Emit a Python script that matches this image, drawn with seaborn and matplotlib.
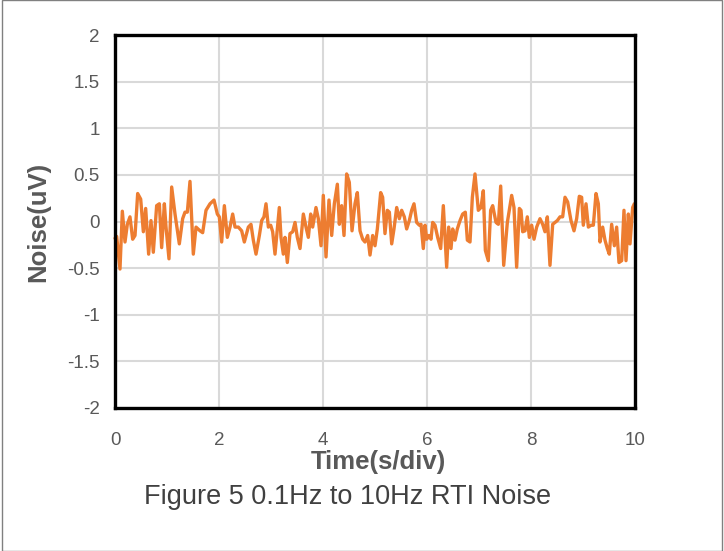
import numpy as np
import pandas as pd
import matplotlib
matplotlib.use("Agg")
import matplotlib.pyplot as plt
import seaborn as sns
from matplotlib.patches import Rectangle

# ---- data ----
time_s = [0.0, 0.032, 0.096, 0.141, 0.192, 0.237, 0.288, 0.340, 0.385, 0.436, 0.494,
          0.545, 0.590, 0.647, 0.692, 0.737, 0.801, 0.853, 0.897, 0.949, 0.981,
          1.038, 1.090, 1.154, 1.237, 1.301, 1.346, 1.391, 1.442, 1.506, 1.558,
          1.635, 1.686, 1.750, 1.827, 1.904, 1.968, 2.006, 2.051, 2.103, 2.160,
          2.212, 2.263, 2.308, 2.372, 2.436, 2.487,
          2.564, 2.615, 2.660, 2.712, 2.776, 2.821, 2.865, 2.904, 2.949, 2.994,
          3.032, 3.077, 3.160, 3.192, 3.237, 3.269, 3.314, 3.365, 3.417, 3.462,
          3.506, 3.558, 3.622, 3.673, 3.718, 3.763, 3.801, 3.865, 3.910, 3.962,
          4.006, 4.058, 4.115, 4.167, 4.218, 4.276, 4.314, 4.359, 4.404, 4.455,
          4.506, 4.558, 4.615, 4.660, 4.712, 4.763, 4.808, 4.859, 4.904,
          4.955, 5.000, 5.045, 5.109, 5.147, 5.192, 5.237, 5.276, 5.321, 5.365,
          5.417, 5.468, 5.513, 5.564, 5.609, 5.660, 5.705, 5.750, 5.801, 5.853,
          5.885, 5.929, 5.962, 5.994, 6.038, 6.077, 6.109, 6.154, 6.205, 6.263,
          6.314, 6.378, 6.417, 6.462, 6.494, 6.538, 6.583, 6.635, 6.686, 6.737,
          6.776, 6.827, 6.872, 6.923, 6.987, 7.038, 7.083, 7.122, 7.179, 7.224,
          7.263, 7.327, 7.372, 7.417, 7.475,
          7.545, 7.628, 7.673, 7.724, 7.776, 7.808, 7.840, 7.885, 7.929, 7.968,
          8.013, 8.058, 8.109, 8.173, 8.224, 8.269, 8.314, 8.365, 8.417, 8.462,
          8.506, 8.558, 8.609, 8.654, 8.705, 8.769, 8.827, 8.878, 8.929, 8.974,
          9.006, 9.058, 9.103, 9.154, 9.199, 9.250, 9.295, 9.327, 9.378, 9.423,
          9.468, 9.506, 9.551, 9.603, 9.647, 9.692, 9.744, 9.788, 9.827, 9.872,
          9.904, 9.955, 9.987]

noise_uv = [-0.18, -0.16, -0.51, 0.11, -0.22, -0.03, 0.05, -0.19, -0.15, 0.30, 0.24,
            -0.11, 0.14, -0.35, 0.01, -0.33, 0.17, 0.19, -0.28, 0.19, -0.06,
            -0.40, 0.37, 0.08, -0.24, 0.03, 0.10, 0.10, 0.43, -0.35, -0.06,
            -0.10, -0.12, 0.12, 0.19, 0.23, 0.08, 0.05, -0.22, 0.17, -0.17,
            -0.06, 0.08, -0.06, -0.06, -0.10, -0.22,
            -0.06, -0.03, -0.20, -0.35, -0.15, 0.01, 0.05, 0.19, -0.06, -0.04,
            -0.11, -0.35, 0.15, -0.17, -0.35, -0.17, -0.44, -0.13, -0.11, -0.01,
            -0.17, -0.29, 0.08, -0.06, -0.17, 0.08, -0.06, 0.15, 0.03, -0.26,
            0.28, -0.38, 0.23, -0.15, 0.19, 0.40, -0.03, 0.17, -0.15, 0.51,
            0.42, -0.10, 0.19, 0.31, -0.10, -0.19, -0.22, -0.15, -0.36,
            -0.15, -0.26, -0.08, 0.31, 0.26, -0.13, 0.12, 0.10, -0.24, -0.08,
            0.15, 0.03, 0.12, 0.05, -0.08, 0.01, 0.12, 0.19, -0.01, -0.04,
            -0.03, -0.29, -0.04, -0.19, -0.15, -0.19, -0.01, -0.04, -0.17, -0.29,
            0.17, -0.49, -0.06, -0.29, -0.08, -0.20, -0.08, 0.01, 0.08, 0.10,
            -0.20, -0.22, 0.26, 0.51, 0.12, 0.15, 0.33, -0.31, -0.42, 0.12,
            0.17, -0.01, -0.03, 0.38, -0.47,
            -0.01, 0.28, 0.15, -0.49, 0.14, 0.12, -0.11, -0.10, 0.05, -0.17,
            -0.04, -0.19, -0.06, 0.03, -0.03, -0.11, 0.05, -0.47, -0.03, -0.01,
            0.01, 0.05, 0.05, 0.26, 0.21, 0.01, -0.10, 0.03, 0.27, 0.26,
            -0.04, 0.19, -0.06, -0.04, -0.04, 0.30, 0.19, -0.22, -0.06, -0.20,
            -0.29, -0.35, -0.03, -0.26, -0.06, -0.44, -0.42, 0.12, -0.42, 0.08,
            -0.24, 0.15, 0.19]

x_ticks = [0, 2, 4, 6, 8, 10]
x_tick_labels = ["0", "2", "4", "6", "8", "10"]
y_ticks = [-2, -1.5, -1, -0.5, 0, 0.5, 1, 1.5, 2]
y_tick_labels = ["-2", "-1.5", "-1", "-0.5", "0", "0.5", "1", "1.5", "2"]

x_label = "Time(s/div)"
y_label = "Noise(uV)"
caption = "Figure 5 0.1Hz to 10Hz RTI Noise"

df = pd.DataFrame({"t": time_s, "v": noise_uv})

# ---- figure ----
sns.set_style("white")
plt.rcParams["font.family"] = ["Liberation Sans", "DejaVu Sans"]

fig = plt.figure(figsize=(7.24, 5.51), dpi=100)
ax = fig.add_axes([115 / 724, 1 - 408 / 551, (635 - 115) / 724, (408 - 35) / 551])

ax.set_xlim(0, 10)
ax.set_ylim(-2, 2)
ax.set_xticks(x_ticks)
ax.set_xticklabels(x_tick_labels)
ax.set_yticks(y_ticks)
ax.set_yticklabels(y_tick_labels)
ax.grid(True, color="#d9d9d9", linewidth=1.5)
ax.set_axisbelow(True)

sns.lineplot(data=df, x="t", y="v", ax=ax, color="#ED7D31", linewidth=2.4,
             sort=False, estimator=None, clip_on=False)

for s in ax.spines.values():
    s.set_color("black")
    s.set_linewidth(2.4)
    s.set_zorder(5)

ax.tick_params(axis="both", length=0, labelsize=13.5, colors="#595959")
ax.tick_params(axis="y", pad=11)
ax.tick_params(axis="x", pad=17)
ax.set_xlabel(x_label, fontsize=18.5, fontweight="bold", color="#595959")
ax.set_ylabel(y_label, fontsize=18.5, fontweight="bold", color="#595959")
ax.xaxis.set_label_coords((378 - 115) / 520, (408 - 462) / 373)
ax.xaxis.label.set_va("center")
ax.yaxis.set_label_coords((38 - 115) / 520, 0.5)
ax.yaxis.label.set_va("center")

fig.text(348 / 724, 1 - 497 / 551, caption, ha="center", va="center",
         fontsize=19.5, color="#404040")

# outer frame
fig.add_artist(Rectangle((2 / 724, 0), 1 - 4 / 724, 1, transform=fig.transFigure,
                         fill=False, edgecolor="#808080", linewidth=1.0))

fig.savefig("out.png", dpi=100)
